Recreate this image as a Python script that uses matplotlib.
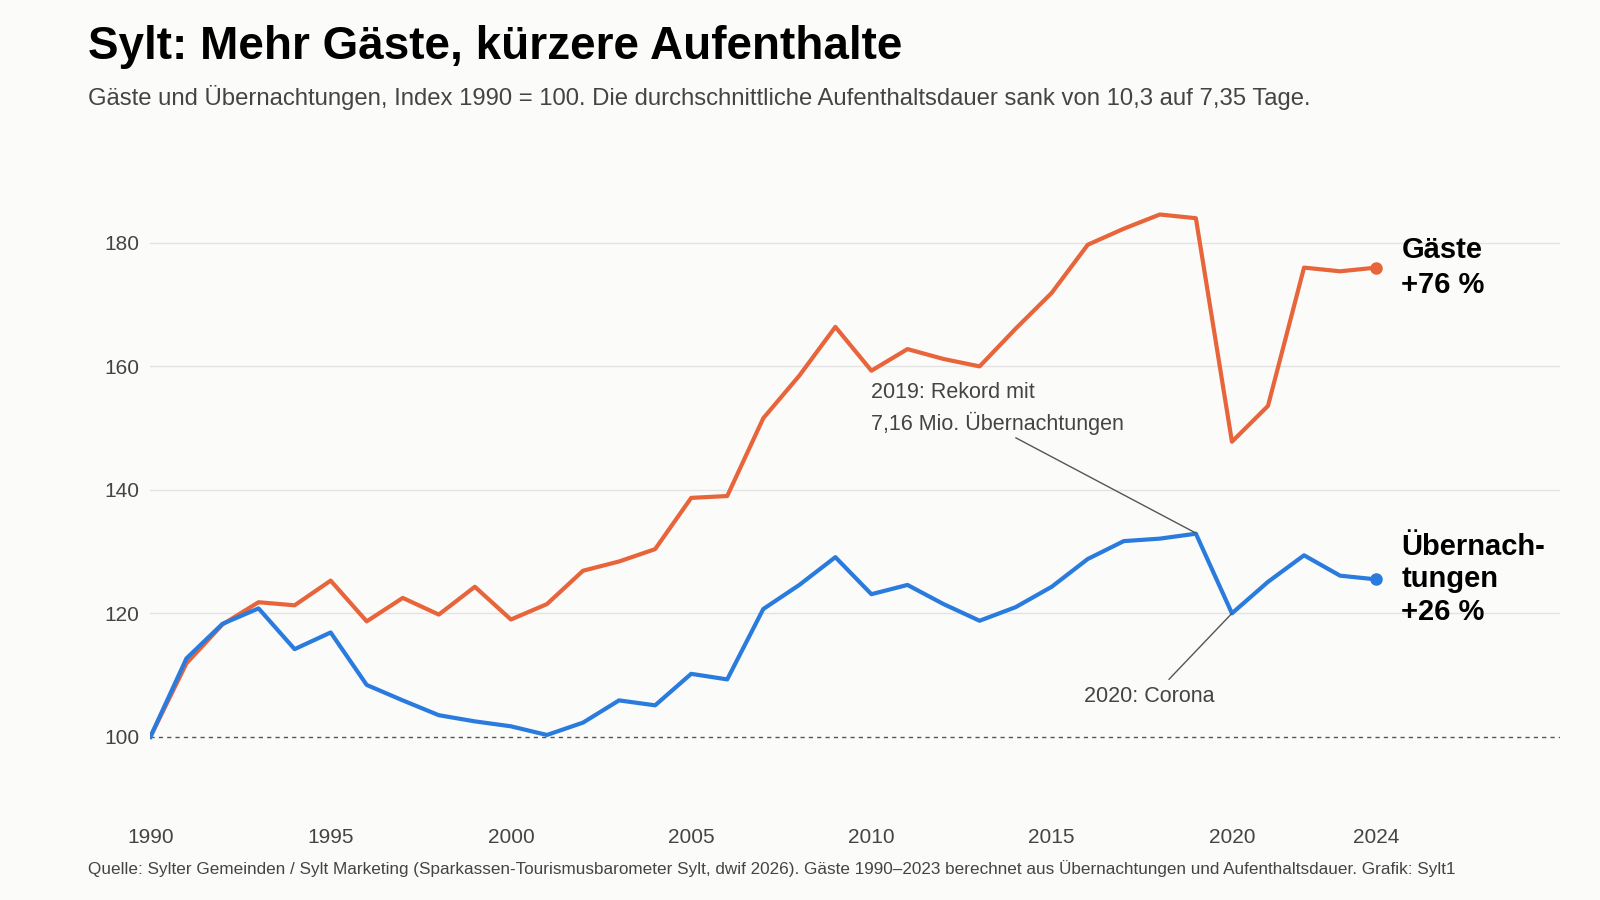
import matplotlib.pyplot as plt

plt.rcParams['font.family'] = ['Liberation Sans', 'DejaVu Sans']

years = list(range(1990, 2025))
gaeste = [100, 111.9, 118.2, 121.8, 121.3, 125.3, 118.7, 122.5, 119.8, 124.3,
          119.0, 121.5, 126.9, 128.4, 130.4, 138.7, 139.0, 151.6, 158.5, 166.4,
          159.3, 162.8, 161.2, 160.0, 166.1, 171.9, 179.7, 182.3, 184.6, 184.0,
          147.8, 153.6, 176.0, 175.4, 176.0]
uebern = [100, 112.7, 118.3, 120.8, 114.2, 116.9, 108.4, 105.9, 103.5, 102.5,
          101.7, 100.3, 102.3, 105.9, 105.1, 110.2, 109.3, 120.7, 124.6, 129.1,
          123.1, 124.6, 121.5, 118.8, 121.0, 124.3, 128.8, 131.7, 132.1, 132.9,
          120.0, 125.1, 129.4, 126.1, 125.5]
xticks = [1990, 1995, 2000, 2005, 2010, 2015, 2020, 2024]
yticks = [100, 120, 140, 160, 180]

orange = '#E8643A'
blue = '#2A7BDE'
bg = '#FBFBF9'

fig = plt.figure(figsize=(16, 9), dpi=100, facecolor=bg)
ax = fig.add_axes([0.094, 0.099, 0.881, 0.734], facecolor=bg)

for y in yticks[1:]:
    ax.axhline(y, color='#e3e3e3', lw=1, zorder=0)
ax.axhline(100, color='#555555', lw=1, ls=(0, (3, 3)), zorder=1)

ax.plot(years, gaeste, color=orange, lw=3, zorder=3)
ax.plot(years, uebern, color=blue, lw=3, zorder=3)
ax.plot(years[-1], gaeste[-1], 'o', color=orange, ms=8, zorder=4)
ax.plot(years[-1], uebern[-1], 'o', color=blue, ms=8, zorder=4)

ax.set_xlim(1990, 2029.1)
ax.set_ylim(88, 195)
ax.set_xticks(xticks)
ax.set_yticks(yticks)
ax.tick_params(length=0, labelsize=15, colors='#444444')
ax.tick_params(axis='x', pad=12)
ax.tick_params(axis='y', pad=8)
for s in ax.spines.values():
    s.set_visible(False)

ax.text(2024.7, 176, 'Gäste\n+76 %', fontsize=21, fontweight='bold', va='center', linespacing=1.3)
ax.text(2024.7, 125.5, 'Übernach-\ntungen\n+26 %', fontsize=21, fontweight='bold', va='center', linespacing=1.2)

ax.annotate('2019: Rekord mit\n7,16 Mio. Übernachtungen', xy=(2019, 133), xytext=(2010, 157.5),
            fontsize=15.5, color='#444444', va='top', linespacing=1.5,
            arrowprops=dict(arrowstyle='-', color='#555555', lw=1, shrinkA=0, shrinkB=0,
                            relpos=(0.55, 0)))
ax.annotate('2020: Corona', xy=(2020, 120), xytext=(2015.9, 106.5),
            fontsize=15.5, color='#444444', va='center',
            arrowprops=dict(arrowstyle='-', color='#555555', lw=1, shrinkA=4, shrinkB=0,
                            relpos=(0.6, 1)))

fig.text(0.055, 0.948, 'Sylt: Mehr Gäste, kürzere Aufenthalte', fontsize=33, fontweight='bold', va='center')
fig.text(0.055, 0.892, 'Gäste und Übernachtungen, Index 1990 = 100. Die durchschnittliche Aufenthaltsdauer sank von 10,3 auf 7,35 Tage.',
         fontsize=17.2, color='#444444', va='center')
fig.text(0.055, 0.035, 'Quelle: Sylter Gemeinden / Sylt Marketing (Sparkassen-Tourismusbarometer Sylt, dwif 2026). Gäste 1990–2023 berechnet aus Übernachtungen und Aufenthaltsdauer. Grafik: Sylt1',
         fontsize=12.3, color='#444444', va='center')

fig.savefig('out.png', facecolor=bg)
